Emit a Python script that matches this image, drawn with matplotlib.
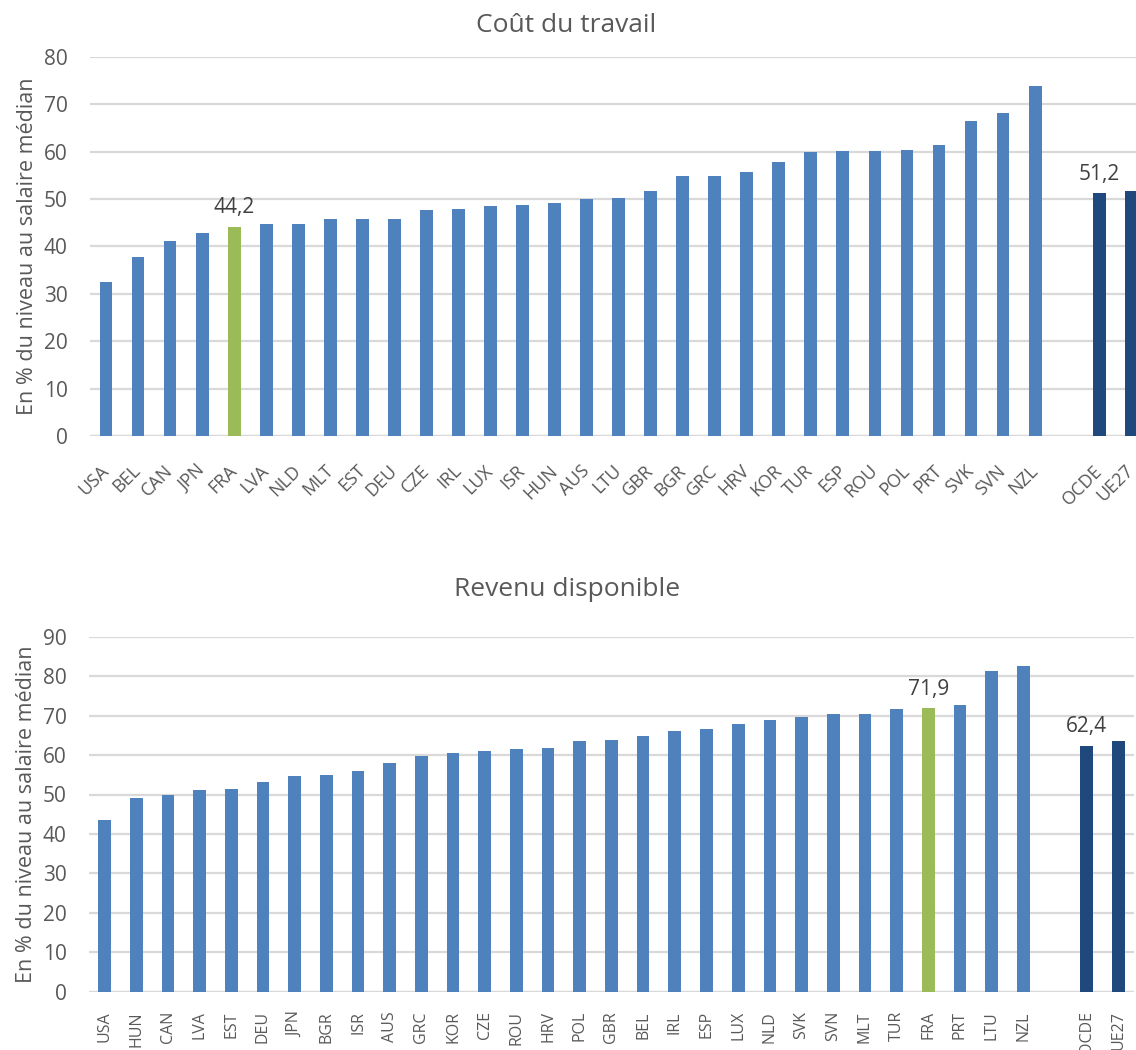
import matplotlib.pyplot as plt
import numpy as np

plt.rcParams['font.family'] = ['Open Sans', 'DejaVu Sans']

# Coût du travail
pays_cout = ["USA", "BEL", "CAN", "JPN", "FRA", "LVA", "NLD", "MLT", "EST", "DEU",
             "CZE", "IRL", "LUX", "ISR", "HUN", "AUS", "LTU", "GBR", "BGR", "GRC",
             "HRV", "KOR", "TUR", "ESP", "ROU", "POL", "PRT", "SVK", "SVN", "NZL"]
val_cout = [32.5, 37.7, 41.1, 42.8, 44.2, 44.7, 44.7, 45.7, 45.8, 45.9,
            47.6, 47.9, 48.6, 48.7, 49.1, 50.1, 50.3, 51.7, 54.9, 54.9,
            55.7, 57.9, 60.0, 60.1, 60.1, 60.4, 61.5, 66.4, 68.1, 73.8]

# Revenu disponible
pays_rev = ["USA", "HUN", "CAN", "LVA", "EST", "DEU", "JPN", "BGR", "ISR", "AUS",
            "GRC", "KOR", "CZE", "ROU", "HRV", "POL", "GBR", "BEL", "IRL", "ESP",
            "LUX", "NLD", "SVK", "SVN", "MLT", "TUR", "FRA", "PRT", "LTU", "NZL"]
val_rev = [43.5, 49.2, 49.9, 51.1, 51.4, 53.1, 54.8, 54.9, 56.0, 57.9,
           59.7, 60.5, 61.1, 61.5, 61.7, 63.6, 63.7, 64.8, 66.0, 66.5,
           67.9, 68.9, 69.7, 70.3, 70.3, 71.6, 71.9, 72.8, 81.3, 82.7]

agregats = ["OCDE", "UE27"]
agr_cout = [51.2, 51.8]
agr_rev = [62.4, 63.6]

BLEU = '#4F81BD'
VERT = '#9BBB59'
MARINE = '#1F497D'
GRIS = '#595959'
GRILLE = '#D9D9D9'


def trace(ax, pays, vals, agr_vals, ymax, rot):
    noms = pays + [""] + agregats
    x = np.arange(len(noms))
    couleurs = [VERT if p == "FRA" else BLEU for p in pays]
    ax.bar(x[:len(pays)], vals, width=0.4, color=couleurs, zorder=3)
    ax.bar(x[len(pays) + 1:], agr_vals, width=0.4, color=MARINE, zorder=3)

    # étiquettes France et OCDE
    i_fra = pays.index("FRA")
    for xi, v in [(i_fra, vals[i_fra]), (len(pays) + 1, agr_vals[0])]:
        ax.annotate(f"{v:.1f}".replace(".", ","), (xi, v), xytext=(0, 6),
                    textcoords='offset points', ha='center', va='bottom',
                    fontsize=15, color='#404040')

    ax.set_xlim(-0.5, len(noms) - 0.5)
    ax.set_ylim(0, ymax)
    ax.set_yticks(np.arange(0, ymax + 1, 10))
    ax.yaxis.grid(True, color=GRILLE, linewidth=1.6, zorder=0)
    ax.set_axisbelow(True)
    for s in ax.spines.values():
        s.set_visible(False)
    ax.axhline(0, color=GRILLE, linewidth=1.6, zorder=2)
    ax.tick_params(length=0, colors=GRIS)
    ax.tick_params(axis='y', labelsize=15, pad=16)
    ax.set_xticks(x)
    if rot == 45:
        ax.set_xticklabels(noms, rotation=45, ha='right', va='center',
                           rotation_mode='anchor', fontsize=13)
        ax.tick_params(axis='x', pad=23)
    else:
        ax.set_xticklabels(noms, rotation=90, fontsize=11.5)
        ax.tick_params(axis='x', pad=14)
    ax.set_ylabel("En % du niveau au salaire médian", fontsize=15.5, color=GRIS,
                  labelpad=4)


fig = plt.figure(figsize=(11.36, 10.5), dpi=100)
ax1 = fig.add_axes([0.0792, 0.5848, 0.9307, 0.3609])
ax2 = fig.add_axes([0.0781, 0.0555, 0.9203, 0.3381])

trace(ax1, pays_cout, val_cout, agr_cout, 80, 45)
trace(ax2, pays_rev, val_rev, agr_rev, 90, 90)

fig.text(566 / 1136, 1 - 26 / 1050, "Coût du travail", fontsize=19,
         color=GRIS, ha='center', va='center')
fig.text(567 / 1136, 1 - 589 / 1050, "Revenu disponible", fontsize=19,
         color=GRIS, ha='center', va='center')

fig.savefig("out.png", dpi=100)
